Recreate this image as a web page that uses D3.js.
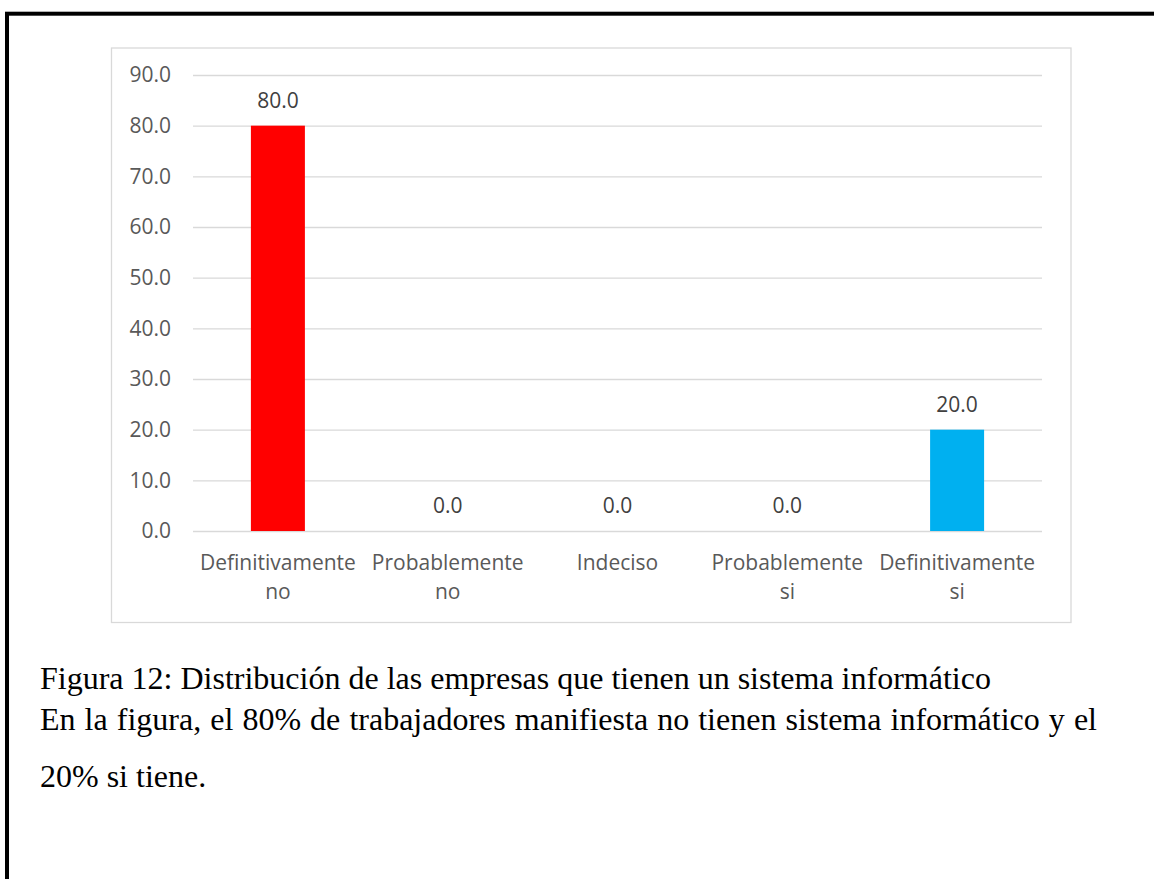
<!DOCTYPE html>
<html>
<head>
<meta charset="utf-8">
<script src="https://cdn.jsdelivr.net/npm/d3@7"></script>
<style>
  html, body { margin: 0; padding: 0; background: #ffffff; }
  svg { display: block; }
</style>
</head>
<body>
<svg id="fig" width="1154" height="879"></svg>
<script>
// Survey answers and the share (%) of companies for each answer
const categories = ["Definitivamente no", "Probablemente no", "Indeciso", "Probablemente si", "Definitivamente si"];
const values = [80.0, 0.0, 0.0, 0.0, 20.0];
const barColors = ["#ff0000", "#ff0000", "#ff0000", "#ff0000", "#00b0f0"];
const yTicks = [0, 10, 20, 30, 40, 50, 60, 70, 80, 90];
const captionLines = [
  "Figura 12: Distribución de las empresas que tienen un sistema informático",
  "En la figura, el 80% de trabajadores manifiesta no tienen sistema informático y el",
  "20% si tiene."
];

const svg = d3.select("#fig");
const sans = "'Open Sans', 'Noto Sans', sans-serif";
const serif = "'Liberation Serif', 'Times New Roman', serif";

// Page frame
svg.append("rect")
  .attr("x", 7).attr("y", 13.7)
  .attr("width", 1200).attr("height", 950)
  .attr("fill", "none").attr("stroke", "#000").attr("stroke-width", 4);

// Chart area border
svg.append("rect")
  .attr("x", 111.5).attr("y", 48)
  .attr("width", 959.5).attr("height", 574.5)
  .attr("fill", "#fff").attr("stroke", "#d9d9d9").attr("stroke-width", 1.3);

const plot = { left: 193, right: 1042, top: 75, bottom: 531 };

const x = d3.scaleBand()
  .domain(categories)
  .range([plot.left, plot.right])
  .paddingInner(0.682)
  .paddingOuter(0.341);

const y = d3.scaleLinear()
  .domain([0, 90])
  .range([plot.bottom, plot.top]);

// Horizontal gridlines and value axis labels
const yAxis = d3.axisLeft(y)
  .tickValues(yTicks)
  .tickFormat(d3.format(".1f"))
  .tickSize(-(plot.right - plot.left))
  .tickPadding(22);

const gy = svg.append("g")
  .attr("transform", `translate(${plot.left},0)`)
  .call(yAxis);
gy.select(".domain").remove();
gy.selectAll(".tick line").attr("stroke", "#d9d9d9").attr("stroke-width", 1.3);
gy.selectAll(".tick text")
  .attr("fill", "#595959")
  .style("font-family", sans)
  .style("font-size", "21px");

// Bars
svg.append("g").selectAll("rect")
  .data(values)
  .join("rect")
  .attr("x", (d, i) => x(categories[i]))
  .attr("y", d => y(d))
  .attr("width", x.bandwidth())
  .attr("height", d => y(0) - y(d))
  .attr("fill", (d, i) => barColors[i]);

// Value labels above the bars
svg.append("g").selectAll("text")
  .data(values)
  .join("text")
  .attr("x", (d, i) => x(categories[i]) + x.bandwidth() / 2)
  .attr("y", d => y(d) - 18)
  .attr("text-anchor", "middle")
  .attr("fill", "#404040")
  .style("font-family", sans)
  .style("font-size", "21px")
  .text(d => d3.format(".1f")(d));

// Category labels, wrapped onto two lines
const catG = svg.append("g");
categories.forEach(c => {
  const words = c.split(" ");
  const t = catG.append("text")
    .attr("text-anchor", "middle")
    .attr("fill", "#595959")
    .style("font-family", sans)
    .style("font-size", "21px");
  const cx = x(c) + x.bandwidth() / 2;
  words.forEach((w, j) => {
    t.append("tspan")
      .attr("x", cx)
      .attr("y", 570 + j * 29)
      .text(w);
  });
});

// Caption below the chart; the second line is justified to the text block width
const capY = [689, 730, 787];
const blockRight = 1097;
captionLines.forEach((line, i) => {
  const t = svg.append("text")
    .attr("x", 40)
    .attr("y", capY[i])
    .attr("fill", "#000")
    .style("font-family", serif)
    .style("font-size", "32px")
    .text(line);
  if (i === 1) {
    const natural = t.node().getComputedTextLength();
    const gaps = line.split(" ").length - 1;
    const extra = Math.max(0, (blockRight - 40 - natural) / gaps);
    t.style("word-spacing", extra + "px");
  }
});
</script>
</body>
</html>
